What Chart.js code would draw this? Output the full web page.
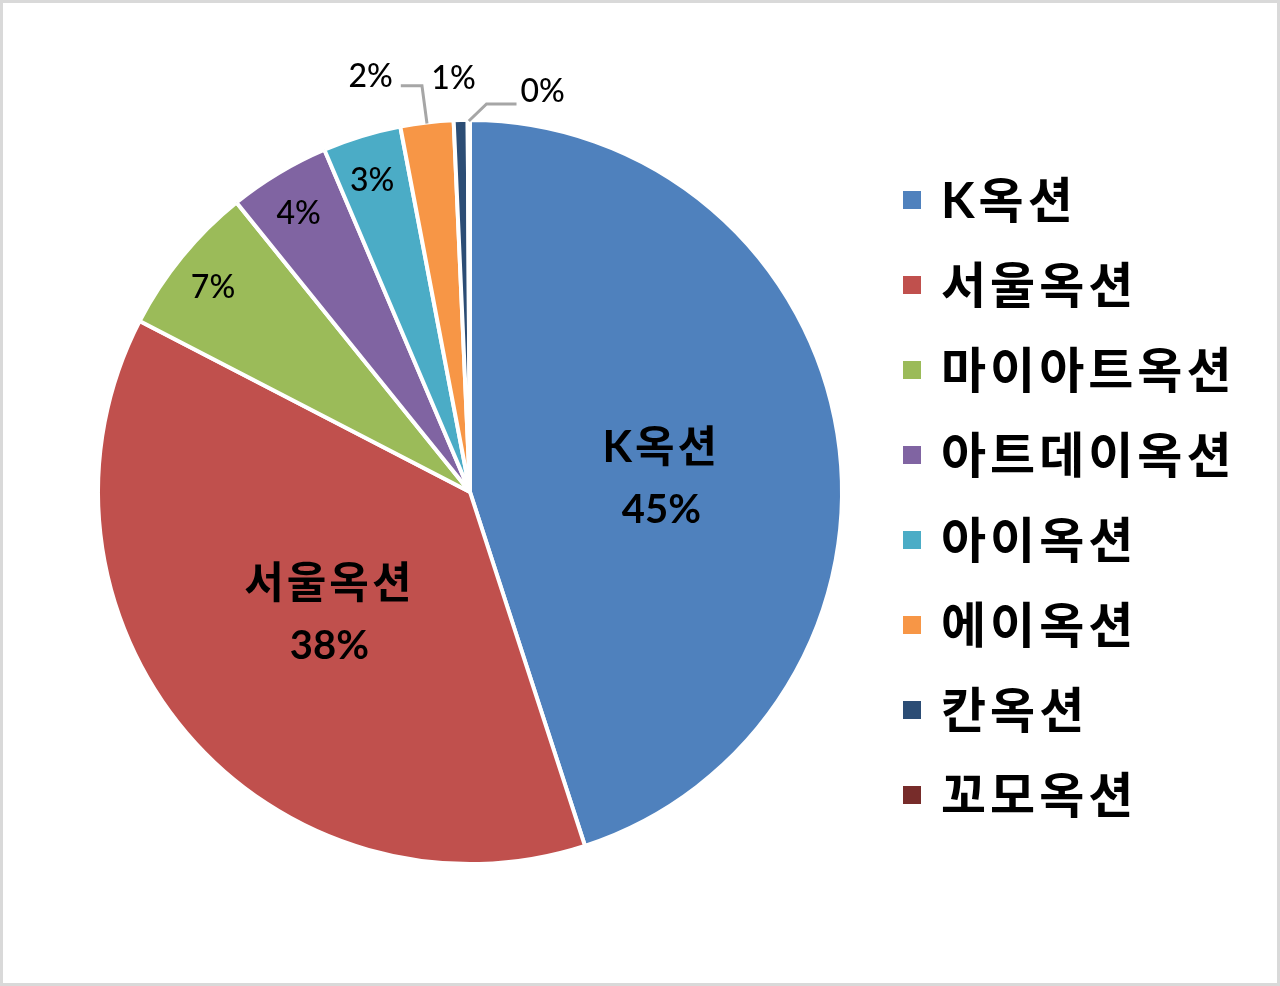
<!DOCTYPE html>
<html>
<head>
<meta charset="utf-8">
<script src="https://cdn.jsdelivr.net/npm/chart.js@4"></script>
<style>
html,body{margin:0;padding:0;background:#fff;}
#wrap{width:1280px;height:986px;position:relative;}
</style>
</head>
<body>
<div id="wrap"><canvas id="c" width="1280" height="986"></canvas></div>
<script>
const categories = ['K옥션','서울옥션','마이아트옥션','아트데이옥션','아이옥션','에이옥션','칸옥션','꼬모옥션'];
const shares = [45.0, 37.6, 6.6, 4.4, 3.4, 2.3, 0.6, 0.1];
const colors = ['#4F81BD','#C0504D','#9BBB59','#8064A2','#4BACC6','#F79646','#2C4D75','#772C2A'];

// label style per slice: 'big' (name+pct inside), 'in' (pct near rim), 'out' (outside)
const labelMode = ['big','big','in','in','in','out','out','out'];
const bigOffset = [[4,17],[4,0]];
const outOffset = [null,null,null,null,null,[-51,-1],[-6,4],[74,17]];
const leader = [null,null,null,null,null,'left',null,'right'];

const LATIN = "Lato, 'Noto Sans CJK KR', sans-serif";

const labelPlugin = {
  id: 'pieLabels',
  beforeDraw(chart){
    const ctx = chart.ctx;
    ctx.save();
    ctx.fillStyle = '#fff';
    ctx.fillRect(0,0,chart.width,chart.height);
    ctx.strokeStyle = '#d9d9d9';
    ctx.lineWidth = 3;
    ctx.strokeRect(1.5,1.5,chart.width-3,chart.height-3);
    ctx.restore();
  },
  afterDatasetsDraw(chart){
    const ctx = chart.ctx;
    const meta = chart.getDatasetMeta(0);
    const data = chart.data.datasets[0].data;
    const total = data.reduce((a,b)=>a+b,0);
    ctx.save();
    ctx.fillStyle = '#000';
    ctx.textAlign = 'center';
    ctx.textBaseline = 'middle';
    meta.data.forEach((arc,i)=>{
      const p = arc.getProps(['x','y','startAngle','endAngle','outerRadius'], true);
      const mid = (p.startAngle+p.endAngle)/2;
      const R = p.outerRadius;
      const pct = Math.round(data[i]/total*100) + '%';
      const pt = r => [p.x + Math.cos(mid)*r, p.y + Math.sin(mid)*r];
      if(labelMode[i]==='big'){
        let [lx,ly] = pt(R*0.51);
        lx += bigOffset[i][0]; ly += bigOffset[i][1];
        ctx.font = "bold 43px " + LATIN;
        ctx.letterSpacing = '3px';
        ctx.fillText(categories[i], lx, ly-31);
        ctx.letterSpacing = '0px';
        ctx.font = "bold 40px " + LATIN;
        ctx.fillText(pct, lx, ly+31);
      } else if(labelMode[i]==='in'){
        const [lx,ly] = pt(R*0.885);
        ctx.font = "500 32px " + LATIN;
        ctx.fillText(pct, lx-2, ly+4);
      } else {
        const [ax,ay] = pt(R+45);
        const lx = ax + outOffset[i][0], ly = ay + outOffset[i][1];
        ctx.font = "500 32px " + LATIN;
        ctx.fillText(pct, lx, ly);
        const w = ctx.measureText(pct).width;
        const [ex,ey] = pt(R-1);
        ctx.strokeStyle = '#a6a6a6';
        ctx.lineWidth = 3;
        if(leader[i]==='left'){
          const right = lx + w/2;
          ctx.beginPath();
          ctx.moveTo(ex,ey);
          ctx.lineTo(ex-5, ly+9);
          ctx.lineTo(right+8, ly+9);
          ctx.stroke();
        } else if(leader[i]==='right'){
          const left = lx - w/2;
          ctx.beginPath();
          ctx.moveTo(ex,ey);
          ctx.lineTo(left-34, ly+12);
          ctx.lineTo(left-4, ly+12);
          ctx.stroke();
        }
      }
    });
    // legend
    const lx0 = 903, ly0 = 200, step = 85;
    ctx.textAlign = 'left';
    ctx.font = "bold 49px " + LATIN;
    ctx.letterSpacing = '4px';
    categories.forEach((name,i)=>{
      const y = ly0 + i*step;
      ctx.fillStyle = colors[i];
      ctx.fillRect(lx0, y-9, 18, 18);
      ctx.fillStyle = '#000';
      ctx.fillText(name, lx0+38, y+2);
    });
    ctx.letterSpacing = '0px';
    ctx.restore();
  }
};

new Chart(document.getElementById('c'), {
  type: 'pie',
  data: {
    labels: categories,
    datasets: [{
      data: shares,
      backgroundColor: colors,
      borderColor: '#ffffff',
      borderWidth: 4
    }]
  },
  options: {
    responsive: false,
    animation: false,
    devicePixelRatio: 1,
    layout: { padding: { top: 118, bottom: 120, left: 96, right: 436 } },
    plugins: { legend: { display: false }, tooltip: { enabled: false } }
  },
  plugins: [labelPlugin]
});
</script>
</body>
</html>
